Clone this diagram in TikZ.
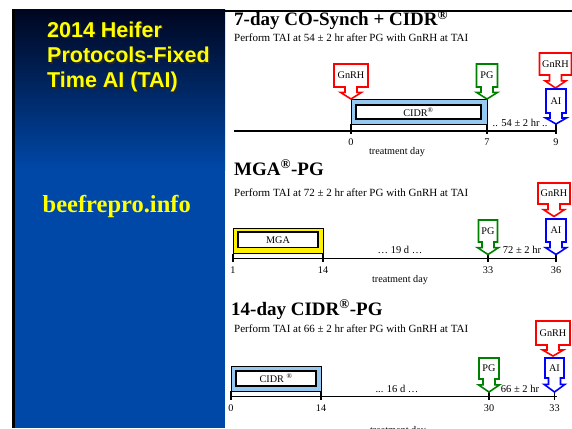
\documentclass[tikz,border=0pt]{standalone}
\usepackage{fontspec}
\setmainfont{Liberation Serif}
\newfontfamily\arialf{Liberation Sans}
\definecolor{paneltop}{RGB}{0,6,32}
\definecolor{panelblue}{RGB}{0,72,168}
\definecolor{titleyellow}{RGB}{255,255,0}
\definecolor{cidrblue}{RGB}{150,200,240}
\definecolor{cred}{RGB}{255,0,0}
\definecolor{cgreen}{RGB}{0,128,0}
\definecolor{cblue}{RGB}{0,0,255}
\newcommand\mkcallout[8]{%
  \draw[callout,draw=#7] ({#2-#6},#3) -- ({#2+#6},#3) -- ({#2+#6},#4) -- ({#2+6},#4)
    -- ({#2+6},{#4+0.45*(#5-#4)}) -- ({#2+10.5},{#4+0.45*(#5-#4)}) -- (#2,#5)
    -- ({#2-10.5},{#4+0.45*(#5-#4)}) -- ({#2-6},{#4+0.45*(#5-#4)}) -- ({#2-6},#4)
    -- ({#2-#6},#4) -- cycle;
  \node[calltext] (#1) at (#2,{(#3+#4)/2}) {#8};%
}
\begin{document}
\begin{tikzpicture}[x=1pt,y=-1pt,
  callout/.style={line width=1.6pt,fill=white,line join=miter},
  calltext/.style={font=\fontsize{10.2}{12}\selectfont,inner sep=0pt},
  axisline/.style={line width=1.3pt},
  tickline/.style={line width=1.3pt},
  outerbox/.style={draw=black,line width=1pt},
  innerbox/.style={draw=black,fill=white,line width=1.3pt},
  boxtext/.style={font=\fontsize{10.2}{12}\selectfont,inner sep=0pt},
  ticklabel/.style={font=\fontsize{10.2}{12}\selectfont,inner sep=0pt},
  gaplabel/.style={font=\fontsize{10.5}{12}\selectfont,inner sep=0pt},
  sectitle/.style={font=\bfseries\fontsize{19}{22}\selectfont,anchor=base west,inner sep=0pt},
  subtitle/.style={font=\fontsize{11}{13}\selectfont,anchor=base west,inner sep=0pt},
  paneltitle/.style={font=\arialf\bfseries\fontsize{21.5}{25}\selectfont,anchor=base west,inner sep=0pt,text=titleyellow},
  panelshadow/.style={font=\arialf\bfseries\fontsize{21.5}{25}\selectfont,anchor=base west,inner sep=0pt,text=black!85},
]
\useasboundingbox (0,0) rectangle (572,428);
\fill[white] (0,0) rectangle (572,428);
% left panel
\fill[black] (12,9) rectangle (225,428);
\shade[top color=paneltop,bottom color=panelblue] (15,10) rectangle (225,170);
\fill[panelblue] (15,169.5) rectangle (225,428);
\draw[line width=2pt] (225,11) -- (572,11);
\node[panelshadow] (ps1) at (48.5,39) {2014 Heifer};
\node[panelshadow] (ps2) at (48.5,64) {Protocols-Fixed};
\node[panelshadow] (ps3) at (48.5,89) {Time AI (TAI)};
\node[paneltitle] (pt1) at (47,37.5) {2014 Heifer};
\node[paneltitle] (pt2) at (47,62.5) {Protocols-Fixed};
\node[paneltitle] (pt3) at (47,87.5) {Time AI (TAI)};
\node[font=\bfseries\fontsize{24.5}{28}\selectfont,text=titleyellow,anchor=base west,inner sep=0pt] (web) at (42.5,212.5) {beefrepro.info};
% ---------------- section 1
\node[sectitle] (t1) at (234,26) {7-day CO-Synch + CIDR\textsuperscript{\textregistered}};
\node[subtitle] (s1) at (234,41.5) {Perform TAI at 54 \textpm{} 2 hr after PG with GnRH at TAI};
\coordinate (a1l) at (234,131);
\coordinate (a1r) at (557,131);
\draw[axisline] (a1l) -- (a1r);
\draw[outerbox,fill=cidrblue] (351,99.5) rectangle (487,124);
\draw[innerbox] (356,105) rectangle (481,119);
\node[boxtext] (cidr1) at (418.5,112) {CIDR\textsuperscript{\textregistered}};
\draw[tickline] (351,124) -- (351,134);
\draw[tickline] (487,124) -- (487,134);
\draw[tickline] (556,124) -- (556,134);
\mkcallout{g1}{351}{64}{87}{99}{17}{cred}{GnRH}
\mkcallout{p1}{487}{64}{87}{99}{10.5}{cgreen}{PG}
\mkcallout{g1b}{555.5}{53}{75}{88}{16}{cred}{GnRH}
\mkcallout{a1}{556}{89}{113}{124}{10}{cblue}{AI}
\node[ticklabel] (l10) at (351,142) {0};
\node[ticklabel] (l17) at (487,142) {7};
\node[ticklabel] (l19) at (556,142) {9};
\node[ticklabel] (td1) at (397,152) {treatment day};
\node[gaplabel] (gap1) at (520,123) {.. 54 \textpm{} 2 hr ..};
% ---------------- section 2
\node[sectitle] (t2) at (234,175) {MGA\textsuperscript{\textregistered}-PG};
\node[subtitle] (s2) at (234,196) {Perform TAI at 72 \textpm{} 2 hr after PG with GnRH at TAI};
\coordinate (a2l) at (233,258.5);
\coordinate (a2r) at (557,258.5);
\draw[axisline] (a2l) -- (a2r);
\draw[outerbox,fill=yellow] (233,228) rectangle (323,253.5);
\draw[innerbox] (238,232) rectangle (318,247.5);
\node[boxtext] (mga) at (278,240) {MGA};
\draw[tickline] (233,253.5) -- (233,262);
\draw[tickline] (323,253.5) -- (323,262);
\draw[tickline] (488,254) -- (488,262);
\draw[tickline] (556,254) -- (556,262);
\mkcallout{p2}{488}{220}{242}{254.5}{9.5}{cgreen}{PG}
\mkcallout{g2}{554}{183}{204}{216.5}{16}{cred}{GnRH}
\mkcallout{a2}{556}{219}{242}{254.5}{10}{cblue}{AI}
\node[ticklabel] (l21) at (233,270) {1};
\node[ticklabel] (l214) at (323,270) {14};
\node[ticklabel] (l233) at (488,270) {33};
\node[ticklabel] (l236) at (556,270) {36};
\node[ticklabel] (td2) at (400,280.5) {treatment day};
\node[gaplabel] (gap2a) at (400,250) {\dots{} 19 d \dots};
\node[gaplabel] (gap2b) at (522,250) {72 \textpm{} 2 hr};
% ---------------- section 3
\node[sectitle] (t3) at (231,315) {14-day CIDR\textsuperscript{\textregistered}-PG};
\node[subtitle] (s3) at (234,332.5) {Perform TAI at 66 \textpm{} 2 hr after PG with GnRH at TAI};
\coordinate (a3l) at (231,396.5);
\coordinate (a3r) at (557,396.5);
\draw[axisline] (a3l) -- (a3r);
\draw[outerbox,fill=cidrblue] (231,366) rectangle (321,391);
\draw[innerbox] (236,371) rectangle (316,386);
\node[boxtext] (cidr3) at (276,378) {CIDR \textsuperscript{\textregistered}};
\draw[tickline] (231,391) -- (231,400);
\draw[tickline] (321,391) -- (321,400);
\draw[tickline] (489,392) -- (489,400);
\draw[tickline] (554.5,392) -- (554.5,400);
\mkcallout{p3}{489}{358}{379}{392}{10}{cgreen}{PG}
\mkcallout{g3}{553}{321}{345}{356}{17}{cred}{GnRH}
\mkcallout{a3}{554.5}{358}{378}{392}{9.5}{cblue}{AI}
\node[ticklabel] (l30) at (231,408) {0};
\node[ticklabel] (l314) at (321,408) {14};
\node[ticklabel] (l330) at (489,408) {30};
\node[ticklabel] (l333) at (554.5,408) {33};
\node[ticklabel] (td3) at (398,431) {treatment day};
\node[gaplabel] (gap3a) at (397,389) {... 16 d \dots};
\node[gaplabel] (gap3b) at (520,389) {66 \textpm{} 2 hr};
\end{tikzpicture}
\end{document}
